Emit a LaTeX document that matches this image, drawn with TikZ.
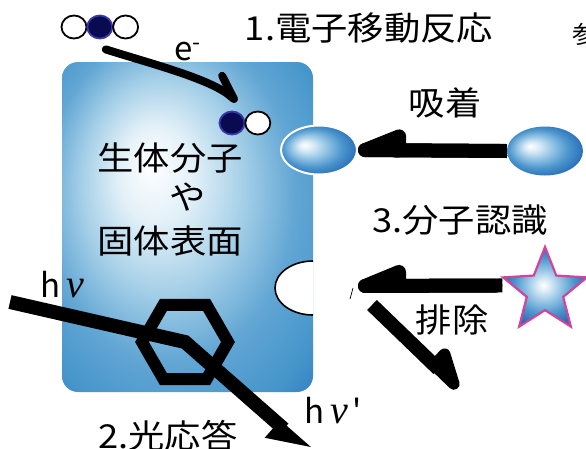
\documentclass[tikz,border=0pt]{standalone}
\usepackage{fontspec}
\setmainfont{Noto Sans CJK JP}
\newfontfamily\greekfont{Liberation Serif}
\usetikzlibrary{shapes.geometric, arrows.meta, calc, positioning}

% colours
\definecolor{navy}{HTML}{0A0A50}
\definecolor{navyrim}{HTML}{3838A8}
\definecolor{starrim}{HTML}{D0449C}
\definecolor{sfA}{HTML}{E2F0F8}
\definecolor{sfB}{HTML}{A6D0E8}
\definecolor{sfC}{HTML}{62A6D4}
\definecolor{sfD}{HTML}{4494CA}
\definecolor{sfE}{HTML}{2C78BE}
\definecolor{sfF}{HTML}{0C4AA2}
\definecolor{bA}{HTML}{D8EAF6}
\definecolor{bB}{HTML}{8CC0E2}
\definecolor{bC}{HTML}{4A94CC}
\definecolor{bD}{HTML}{2A6EB8}
\definecolor{bE}{HTML}{1A4E9E}

% shadings (the middle 50bp square is stretched over the shape)
\pgfdeclareradialshading{surface}{\pgfpoint{-7.5bp}{9.5bp}}{%
  color(0bp)=(white); color(7.5bp)=(sfA); color(16bp)=(sfB);
  color(25bp)=(sfC); color(34bp)=(sfD); color(40bp)=(sfE); color(48bp)=(sfF)}
\pgfdeclareradialshading{sphere}{\pgfpoint{-10bp}{5bp}}{%
  color(0bp)=(white); color(5bp)=(bA); color(12.5bp)=(bB);
  color(20bp)=(bC); color(27.5bp)=(bD); color(35bp)=(bE)}
\pgfdeclareradialshading{glow}{\pgfpoint{-1bp}{1bp}}{%
  color(0bp)=(white); color(4bp)=(bA); color(11bp)=(bB);
  color(18bp)=(bC); color(25bp)=(bD); color(30bp)=(bE)}

\newcommand{\nuit}{{\greekfont\itshape\fontsize{40}{40}\selectfont ν}}

\begin{document}
\begin{tikzpicture}[x=1pt, y=-1pt,
    jp/.style={font=\fontsize{33}{36}\selectfont, xscale=1.1, inner sep=0},
    lat/.style={font=\fontsize{33}{36}\selectfont, anchor=base west, inner sep=0},
    atom/.style={ellipse, draw, line width=1.8, fill=white, minimum width=25, minimum height=23, inner sep=0},
    core/.style={atom, fill=navy, draw=navyrim},
    ball/.style={ellipse, minimum width=76, minimum height=49, inner sep=0, shade, shading=sphere},
    shaft/.style={line width=14, line cap=round, shorten <=7, shorten >=7},
    harpR/.style={line width=14, -{Triangle[right, round, length=62pt, width=44pt]}},
    harpL/.style={line width=14, -{Triangle[left, round, length=46pt, width=46pt]}}]

% frame
\useasboundingbox (0,0) rectangle (586,448);
\clip (0,0) rectangle (586,448);

% biomolecule / solid surface
\node[shade, shading=surface, rounded corners=16, minimum width=251, minimum height=330,
      inner sep=0, outer sep=0] (surf) at (187.5,227) {};
\draw[fill=white, line width=1.6] ($(surf.east)+(0,34)$)
    arc[start angle=270, end angle=90, x radius=38, y radius=27];

\node[jp] at (170,158) {生体分子};
\node[jp] at (188,197) {や};
\node[jp] at (170,241) {固体表面};

% 1. electron transfer
\node[atom] (o1) at (74,27) {};
\node[core, right=-1pt of o1] (d1) {};
\node[atom, right=-1pt of d1] (o2) {};
\node[core] (d2) at (232,123) {};
\node[atom, right=-1pt of d2] (o3) {};

\draw[line width=8, line cap=round, -{Straight Barb[left, round, length=24pt, width=20pt]}]
    ($(d1.south)+(6,10)$) .. controls ($(d1.south)+(50,24)$) and ($(d2.north)+(-22,-32)$)
    .. ($(d2.north)+(5,-9)$);
\node[lat] at (174,60) {e\textsuperscript{-}};
\node[jp] (t1) at (369,28) {1.電子移動反応};
\node[font=\fontsize{24}{26}\selectfont, inner sep=0] at (584,34) {参};

% adsorption
\node[ball, draw=white, line width=2] (b1) at (319,150) {};
\node[ball] (b2) at (545,151) {};
\draw[shaft] (b2.west) -- (b1.east);
\draw[harpR] (b2.west) -- (b1.east);
\node[jp] (adsorb) at (445,103) {吸着};

% 3. molecular recognition
\node[jp] (t3) at (460,220) {3.分子認識};
\node[star, star points=5, star point ratio=2.3, minimum size=88, inner sep=0,
      draw=starrim, line width=2.2, shade, shading=glow] (guest) at (545,291) {};
\coordinate (deflect) at (358,286);
\coordinate (bounce) at (458,388);
\draw[shaft] ($(guest.outer point 2)+(2,9)$) -- (deflect);
\draw[harpR] ($(guest.outer point 2)+(2,9)$) -- (deflect);
\draw[harpL] ($(deflect)+(14,19)$) -- (bounce);
\draw[line width=0.7] (353,288) -- (350,299);
\node[jp] (reject) at (452,320) {排除};

% 2. photoresponse
\node[regular polygon, regular polygon sides=6, minimum size=86, inner sep=0,
      draw, line width=12] (hex) at (185,342) {};
\coordinate (hv-in) at (10,302);
\coordinate (hv-out) at (309,451);
\draw[line width=14, -{Triangle[right, length=34pt, width=36pt]}]
    (hv-in) -- (hex.center) -- (hv-out);
\node[lat] at (40,297) {h\hspace{6pt}\nuit};
\node[lat] at (304,423) {h\hspace{6pt}\nuit\hspace{5pt}\textquotesingle};
\node[jp] (t2) at (168,436) {2.光応答};
\end{tikzpicture}
\end{document}
